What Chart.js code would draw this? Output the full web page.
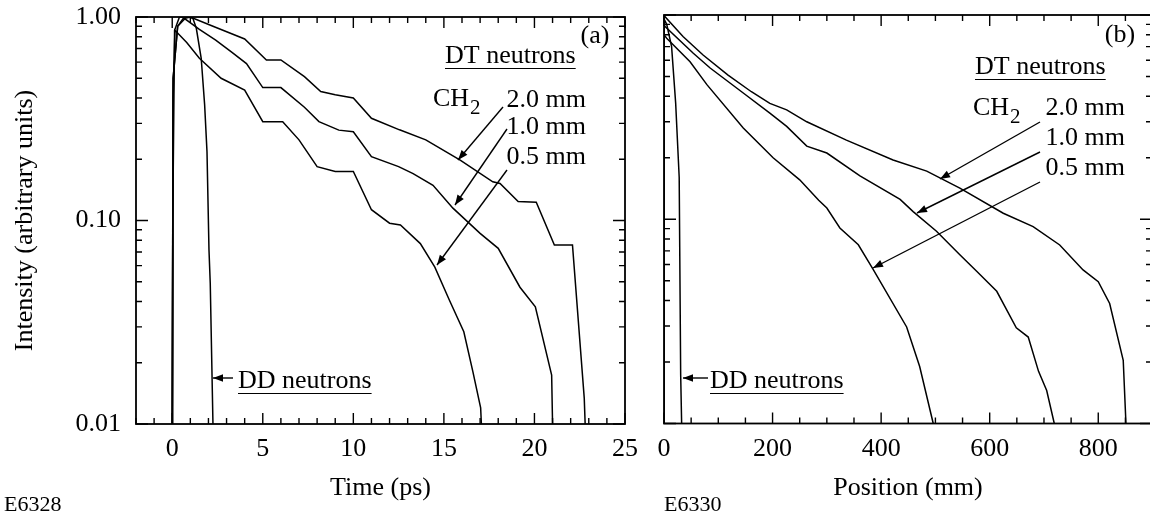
<!DOCTYPE html>
<html><head><meta charset="utf-8">
<script src="https://cdn.jsdelivr.net/npm/chart.js@4/dist/chart.umd.min.js"></script>
<style>
html,body{margin:0;padding:0;background:#fff;overflow:hidden;width:1150px;height:514px;position:relative;}
#ca{position:absolute;left:0;top:0;}
#cb{position:absolute;left:640px;top:0;}
</style></head><body>
<canvas id="ca" width="640" height="514"></canvas>
<canvas id="cb" width="515" height="514"></canvas>
<script>
// ---------- Panel (a): intensity vs time (ps) ----------
const A_T_DD = [0, 0.03, 0.13, 0.4, 0.9, 1.14, 1.33, 1.6, 1.79, 1.92, 2.03, 2.1, 2.25];
const A_I_DD = [0.01, 0.1, 0.86, 1.0, 1.0, 0.985, 0.88, 0.627, 0.37, 0.218, 0.0716, 0.049, 0.01];

const A_T_20 = [0, 0.05, 0.3, 0.6, 1.0, 2.25, 4.0, 5.2, 6.0, 7.3, 8.2, 9.0, 10.0, 11.0, 12.55, 14.0, 15.9, 17.7, 18.1, 19.1, 20.1, 21.1, 22.1, 22.75, 22.8];
const A_I_20 = [0.01, 0.5, 0.9, 0.98, 1.0, 0.9, 0.78, 0.615, 0.615, 0.509, 0.43, 0.415, 0.40, 0.318, 0.279, 0.249, 0.198, 0.155, 0.152, 0.124, 0.123, 0.0758, 0.0758, 0.0134, 0.01];

const A_T_10 = [0, 0.05, 0.3, 0.7, 1.5, 2.4, 3.3, 4.1, 5.0, 6.0, 7.3, 8.1, 9.2, 10.0, 11.0, 12.5, 13.3, 14.4, 15.5, 17.0, 18.0, 19.2, 20.05, 20.95, 21.0];
const A_I_10 = [0.01, 0.5, 0.9, 0.98, 0.87, 0.77, 0.67, 0.59, 0.45, 0.45, 0.36, 0.306, 0.278, 0.273, 0.206, 0.184, 0.17, 0.149, 0.115, 0.0865, 0.073, 0.047, 0.0377, 0.0174, 0.01];

const A_T_05 = [0, 0.05, 0.15, 0.8, 1.5, 2.7, 4.0, 5.0, 6.1, 7.0, 8.0, 9.0, 10.0, 11.0, 12.0, 12.6, 13.7, 14.5, 15.3, 16.1, 16.6, 17.03, 17.07];
const A_I_05 = [0.01, 0.4, 0.86, 0.75, 0.627, 0.5, 0.437, 0.306, 0.306, 0.249, 0.184, 0.174, 0.174, 0.113, 0.097, 0.095, 0.077, 0.059, 0.0407, 0.0284, 0.0181, 0.012, 0.01];

// ---------- Panel (b): intensity vs position (mm) ----------
const B_X_DD = [0, 0.5, 5, 14, 21.5, 28, 30.7, 32.5];
const B_I_DD = [0.01, 0.95, 0.9, 0.7, 0.37, 0.16, 0.0174, 0.01];

const B_X_20 = [0, 2, 35, 72, 118, 161, 195, 226, 263, 336, 422, 484, 545, 625, 680, 729, 772, 800, 821, 846, 851];
const B_I_20 = [1.0, 0.98, 0.785, 0.637, 0.508, 0.421, 0.369, 0.343, 0.30, 0.244, 0.195, 0.172, 0.142, 0.107, 0.092, 0.0748, 0.0565, 0.0495, 0.0387, 0.0204, 0.01];

const B_X_10 = [0, 2, 54, 85, 146, 195, 226, 263, 300, 361, 435, 459, 502, 545, 576, 613, 649, 671, 690, 705, 719];
const B_I_10 = [0.9, 0.877, 0.65, 0.55, 0.415, 0.331, 0.285, 0.228, 0.211, 0.163, 0.125, 0.109, 0.0873, 0.067, 0.0556, 0.0444, 0.0294, 0.0265, 0.018, 0.0145, 0.01];

const B_X_05 = [0, 5, 48, 79, 146, 201, 250, 285, 300, 324, 358, 385, 447, 471, 496];
const B_I_05 = [0.8, 0.77, 0.59, 0.456, 0.28, 0.2, 0.156, 0.124, 0.1135, 0.0906, 0.075, 0.057, 0.0297, 0.019, 0.01];

// ---------- ticks ----------
const A_X_LABELS = [0, 5, 10, 15, 20, 25];
const B_X_LABELS = [0, 200, 400, 600, 800];
const Y_LABELS = [0.01, 0.1, 1];
const Y_TICK_TEXT = ['0.01', '0.10', '1.00'];

// ---------- text ----------
const A_X_TITLE = 'Time (ps)';
const B_X_TITLE = 'Position (mm)';
const Y_TITLE = 'Intensity (arbitrary units)';

const FONT = '"Liberation Serif", "Times New Roman", serif';
const FS = 26;

function pairs(xs, ys) { return xs.map((x, i) => ({x: x, y: ys[i]})); }
function ds(xs, ys) {
  return {data: pairs(xs, ys), showLine: true, borderColor: '#000', borderWidth: 1.5,
          pointRadius: 0, tension: 0, fill: false};
}
function range(a, b, step) { const r = []; for (let v = a; v <= b + 1e-9; v += step) r.push(+v.toFixed(6)); return r; }
const LOG_MINOR = [2,3,4,5,6,7,8,9].flatMap(k => [k * 0.01, k * 0.1]);

const framePlugin = {
  id: 'frame',
  afterDatasetsDraw(chart, args, o) {
    const ctx = chart.ctx, a = chart.chartArea, xs = chart.scales.x, ys = chart.scales.y;
    ctx.save();
    ctx.strokeStyle = '#000';
    ctx.lineWidth = 1.8;
    ctx.strokeRect(a.left, a.top, a.right - a.left, a.bottom - a.top);
    ctx.lineWidth = 1.4;
    ctx.beginPath();
    const xt = (v, len) => { const p = xs.getPixelForValue(v);
      ctx.moveTo(p, a.bottom); ctx.lineTo(p, a.bottom - len);
      ctx.moveTo(p, a.top); ctx.lineTo(p, a.top + len); };
    const yt = (v, len) => { const p = ys.getPixelForValue(v);
      ctx.moveTo(a.left, p); ctx.lineTo(a.left + len, p);
      ctx.moveTo(a.right, p); ctx.lineTo(a.right - len, p); };
    o.xMajor.forEach(v => xt(v, 11));
    o.xMinor.forEach(v => xt(v, 6));
    Y_LABELS.forEach(v => yt(v, 12));
    LOG_MINOR.forEach(v => yt(v, 6));
    ctx.stroke();

    // annotations
    ctx.fillStyle = '#000';
    ctx.textBaseline = 'alphabetic';
    (o.texts || []).forEach(t => {
      ctx.font = (t.size || FS) + 'px ' + FONT;
      ctx.textAlign = t.align || 'left';
      ctx.fillText(t.t, t.x, t.y);
      if (t.sub) {
        const w = ctx.measureText(t.t).width;
        ctx.font = '21px ' + FONT;
        ctx.textAlign = 'left';
        ctx.fillText(t.sub, t.x + w + 1, t.y + 8);
      }
      if (t.ul) {
        const w = ctx.measureText(t.t).width;
        ctx.lineWidth = 1.2;
        ctx.beginPath(); ctx.moveTo(t.x, t.y + 5.5); ctx.lineTo(t.x + w, t.y + 5.5); ctx.stroke();
      }
    });
    (o.arrows || []).forEach(ar => {
      const [x1, y1, x2, y2] = ar;
      ctx.lineWidth = 1.4;
      ctx.beginPath(); ctx.moveTo(x1, y1); ctx.lineTo(x2, y2); ctx.stroke();
      const ang = Math.atan2(y2 - y1, x2 - x1), L = 10, W = 3.8;
      ctx.beginPath();
      ctx.moveTo(x2, y2);
      ctx.lineTo(x2 - L * Math.cos(ang) + W * Math.sin(ang), y2 - L * Math.sin(ang) - W * Math.cos(ang));
      ctx.lineTo(x2 - L * Math.cos(ang) - W * Math.sin(ang), y2 - L * Math.sin(ang) + W * Math.cos(ang));
      ctx.closePath(); ctx.fill();
    });
    ctx.restore();
  }
};

function makeChart(id, cfg) {
  return new Chart(document.getElementById(id), {
    type: 'scatter',
    data: {datasets: cfg.datasets},
    plugins: [framePlugin],
    options: {
      responsive: false, animation: false, events: [],
      layout: {padding: cfg.padding},
      plugins: {legend: {display: false}, tooltip: {enabled: false}, frame: cfg.frame},
      scales: {
        x: {
          type: 'linear', min: cfg.xMin, max: cfg.xMax,
          grid: {display: false, drawTicks: false}, border: {display: false},
          afterBuildTicks: s => { s.ticks = cfg.xLabels.map(v => ({value: v})); },
          afterFit: s => { s.height = cfg.xHeight; s.paddingLeft = 0; s.paddingRight = 0; },
          ticks: {color: '#000', font: {family: FONT, size: FS}, padding: 10, maxRotation: 0,
                  callback: v => String(v)},
          title: {display: true, text: cfg.xTitle, color: '#000', font: {family: FONT, size: FS},
                  padding: {top: 0, bottom: 10}}
        },
        y: {
          type: 'logarithmic', min: 0.01, max: 1, display: cfg.yDisplay,
          grid: {display: false, drawTicks: false}, border: {display: false},
          afterBuildTicks: s => { s.ticks = Y_LABELS.map(v => ({value: v})); },
          afterFit: s => { s.width = cfg.yWidth; s.paddingTop = 0; s.paddingBottom = 0; },
          ticks: {color: '#000', font: {family: FONT, size: FS}, padding: 15,
                  callback: (v) => Y_TICK_TEXT[Y_LABELS.indexOf(v)] || ''},
          title: {display: true, text: Y_TITLE, color: '#000', font: {family: FONT, size: FS},
                  padding: {top: 10, bottom: 0}}
        }
      }
    }
  });
}

makeChart('ca', {
  datasets: [ds(A_T_DD, A_I_DD), ds(A_T_20, A_I_20), ds(A_T_10, A_I_10), ds(A_T_05, A_I_05)],
  padding: {left: 0, top: 17, right: 15, bottom: 0},
  xMin: -2, xMax: 25, xLabels: A_X_LABELS, xHeight: 90, xTitle: A_X_TITLE,
  yDisplay: true, yWidth: 136,
  frame: {
    xMajor: A_X_LABELS, xMinor: range(-2, 25, 1).filter(v => v % 5 !== 0),
    texts: [
      {t: '(a)', x: 595, y: 43, align: 'center'},
      {t: 'DT neutrons', x: 445, y: 63, ul: true},
      {t: 'CH', x: 433, y: 106, sub: '2'},
      {t: '2.0 mm', x: 586, y: 107, align: 'right'},
      {t: '1.0 mm', x: 586, y: 134, align: 'right'},
      {t: '0.5 mm', x: 586, y: 164, align: 'right'},
      {t: 'DD neutrons', x: 238, y: 388, ul: true},
      {t: 'E6328', x: 4, y: 511, size: 22}
    ],
    arrows: [[503, 107, 458, 160], [507, 129, 455, 205], [507, 170, 437, 265], [233, 378, 213, 378]]
  }
});

makeChart('cb', {
  datasets: [ds(B_X_DD, B_I_DD), ds(B_X_20, B_I_20), ds(B_X_10, B_I_10), ds(B_X_05, B_I_05)],
  padding: {left: 24, top: 15, right: 3, bottom: 0},
  xMin: 0, xMax: 899, xLabels: B_X_LABELS, xHeight: 90.5, xTitle: B_X_TITLE,
  yDisplay: false, yWidth: 0,
  frame: {
    xMajor: B_X_LABELS, xMinor: range(0, 899, 50).filter(v => v % 200 !== 0),
    texts: [
      {t: '(b)', x: 480, y: 42, align: 'center'},
      {t: 'DT neutrons', x: 335, y: 74, ul: true},
      {t: 'CH', x: 333, y: 115, sub: '2'},
      {t: '2.0 mm', x: 485, y: 115, align: 'right'},
      {t: '1.0 mm', x: 485, y: 145, align: 'right'},
      {t: '0.5 mm', x: 485, y: 175, align: 'right'},
      {t: 'DD neutrons', x: 70, y: 388, ul: true},
      {t: 'E6330', x: 24, y: 511, size: 22}
    ],
    arrows: [[400, 122, 300, 179], [400, 152, 277, 213], [400, 182, 233, 268], [68, 378, 43, 378]]
  }
});
</script>
</body></html>
